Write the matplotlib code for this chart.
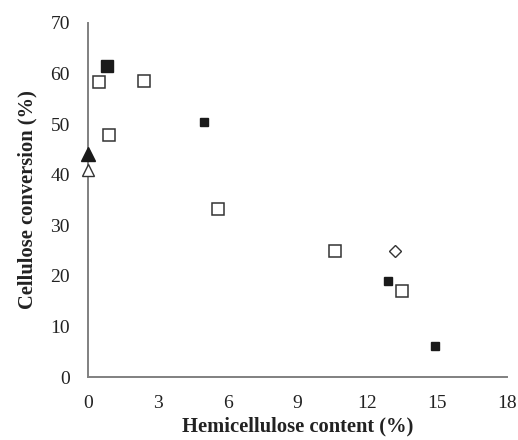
import matplotlib.pyplot as plt

plt.rcParams['font.family'] = ['Liberation Serif', 'DejaVu Serif']

# data
big_fill_x = [0.8]
big_fill_y = [61.4]

open_sq_x = [0.49, 2.4, 0.9, 5.6, 10.6, 13.5]
open_sq_y = [58.3, 58.5, 47.8, 33.2, 25.0, 17.0]

small_fill_x = [5.0, 12.9, 14.9]
small_fill_y = [50.4, 19.0, 6.2]

tri_fill_x = [0.0]
tri_fill_y = [44.0]

tri_open_x = [0.0]
tri_open_y = [41.0]

diamond_x = [13.2]
diamond_y = [25.0]

x_ticks = [0, 3, 6, 9, 12, 15, 18]
y_ticks = [0, 10, 20, 30, 40, 50, 60, 70]

fig = plt.figure(figsize=(5.18, 4.4), dpi=100)
ax = fig.add_axes([0.170, 0.143, 0.809, 0.805])

ax.plot(big_fill_x, big_fill_y, 's', ms=9.2, mfc='#1a1a1a', mec='#1a1a1a', clip_on=False)
ax.plot(open_sq_x, open_sq_y, 's', ms=8.2, mfc='white', mec='#333333', mew=1.1, clip_on=False)
ax.plot(small_fill_x, small_fill_y, 's', ms=5.6, mfc='#1a1a1a', mec='#1a1a1a', clip_on=False)
ax.plot(tri_fill_x, tri_fill_y, '^', ms=9.5, mfc='#1a1a1a', mec='#1a1a1a', clip_on=False, zorder=5)
ax.plot(tri_open_x, tri_open_y, '^', ms=8.5, mfc='white', mec='#333333', mew=1.0, clip_on=False, zorder=5)
ax.plot(diamond_x, diamond_y, 'D', ms=5.8, mfc='white', mec='#333333', mew=1.0, clip_on=False)

ax.set_xlim(0, 18)
ax.set_ylim(0, 70)
ax.set_xticks(x_ticks)
ax.set_yticks(y_ticks)
ax.tick_params(length=0, labelsize=14, colors='#222222')
ax.tick_params(axis='x', pad=13)
ax.tick_params(axis='y', pad=13)

for side in ['top', 'right']:
    ax.spines[side].set_visible(False)
for side in ['left', 'bottom']:
    ax.spines[side].set_color('#808080')
    ax.spines[side].set_linewidth(1.4)

ax.set_xlabel('Hemicellulose content (%)', fontsize=14.8, fontweight='bold', color='#222222', labelpad=3)
ax.set_ylabel('Cellulose conversion (%)', fontsize=14.8, fontweight='bold', color='#222222', labelpad=9)

fig.savefig('out.png', dpi=100)
